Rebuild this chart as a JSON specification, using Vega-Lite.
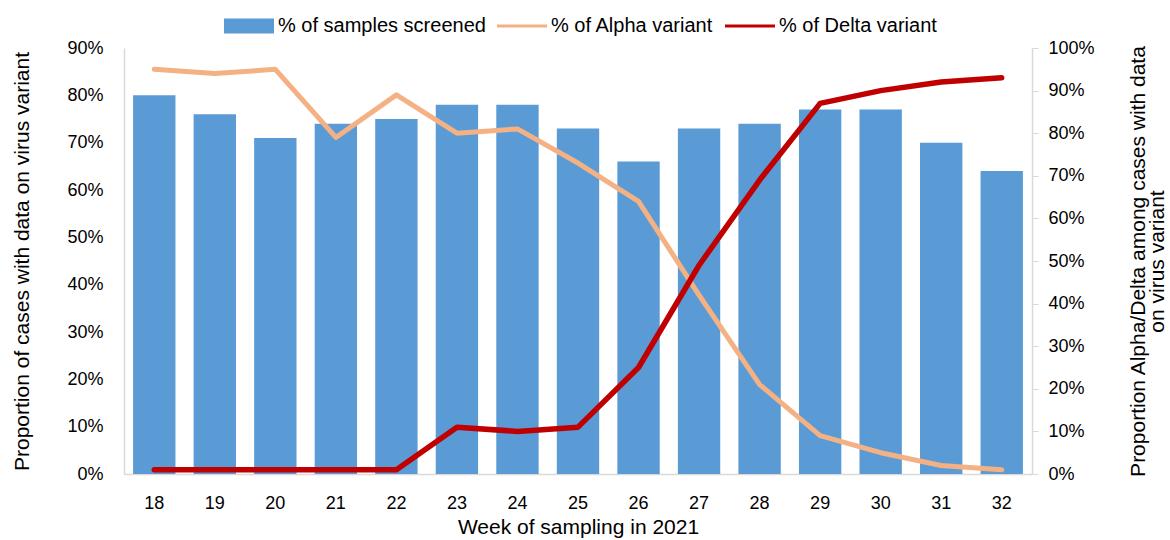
{
  "$schema": "https://vega.github.io/schema/vega-lite/v6.json",
  "width": 908,
  "height": 426,
  "autosize": {"type": "none"},
  "padding": {"left": 124, "top": 48, "right": 138, "bottom": 66},
  "config": {
    "font": "Liberation Sans",
    "view": {"stroke": null},
    "axis": {
      "grid": false,
      "labelFont": "Liberation Sans",
      "titleFont": "Liberation Sans",
      "labelFontSize": 18,
      "titleFontSize": 21,
      "titleFontWeight": "normal",
      "labelColor": "#000000",
      "titleColor": "#000000",
      "domainColor": "#D9D9D9",
      "domainWidth": 1.5,
      "tickColor": "#D9D9D9"
    }
  },
  "data": {
    "values": [
      {"week": "18", "screened": 80, "alpha": 95, "delta": 1},
      {"week": "19", "screened": 76, "alpha": 94, "delta": 1},
      {"week": "20", "screened": 71, "alpha": 95, "delta": 1},
      {"week": "21", "screened": 74, "alpha": 79, "delta": 1},
      {"week": "22", "screened": 75, "alpha": 89, "delta": 1},
      {"week": "23", "screened": 78, "alpha": 80, "delta": 11},
      {"week": "24", "screened": 78, "alpha": 81, "delta": 10},
      {"week": "25", "screened": 73, "alpha": 73, "delta": 11},
      {"week": "26", "screened": 66, "alpha": 64, "delta": 25},
      {"week": "27", "screened": 73, "alpha": 42, "delta": 49},
      {"week": "28", "screened": 74, "alpha": 21, "delta": 69},
      {"week": "29", "screened": 77, "alpha": 9, "delta": 87},
      {"week": "30", "screened": 77, "alpha": 5, "delta": 90},
      {"week": "31", "screened": 70, "alpha": 2, "delta": 92},
      {"week": "32", "screened": 64, "alpha": 1, "delta": 93}
    ]
  },
  "encoding": {
    "x": {
      "field": "week",
      "type": "ordinal",
      "scale": {"paddingInner": 0.3, "paddingOuter": 0.15},
      "axis": {
        "title": "Week of sampling in 2021",
        "labelAngle": 0,
        "ticks": false,
        "labelPadding": 20,
        "titlePadding": 4
      }
    }
  },
  "layer": [
    {
      "mark": {"type": "bar"},
      "encoding": {
        "y": {
          "field": "screened",
          "type": "quantitative",
          "scale": {"domain": [0, 90]},
          "axis": {
            "orient": "left",
            "values": [0, 10, 20, 30, 40, 50, 60, 70, 80, 90],
            "labelExpr": "datum.value + '%'",
            "ticks": false,
            "labelPadding": 21,
            "title": "Proportion of cases with data on virus variant",
            "titlePadding": 34
          }
        },
        "color": {
          "datum": "% of samples screened",
          "type": "nominal",
          "scale": {
            "domain": ["% of samples screened", "% of Alpha variant", "% of Delta variant"],
            "range": ["#5B9BD5", "#F4B183", "#C00000"]
          },
          "legend": {
            "title": null,
            "orient": "none",
            "direction": "horizontal",
            "legendX": 100,
            "legendY": -47,
            "labelFont": "Liberation Sans",
            "labelFontSize": 20,
            "labelColor": "#000000",
            "labelLimit": 0,
            "labelOffset": 4,
            "columnPadding": 11,
            "symbolType": "M-1,-0.3H1V0.3H-1Z",
            "symbolSize": 2500,
            "symbolStrokeWidth": 0,
            "encode": {
              "symbols": {
                "update": {
                  "shape": {"signal": "datum.value === '% of samples screened' ? 'M-1,-0.3H1V0.3H-1Z' : 'M-1,-0.06H1V0.06H-1Z'"},
                  "fill": {"scale": "color", "field": "value"},
                  "strokeWidth": {"value": 0},
                  "opacity": {"value": 1}
                }
              }
            }
          }
        }
      }
    },
    {
      "layer": [
        {
          "mark": {"type": "line", "strokeWidth": 5, "strokeCap": "round", "strokeJoin": "round"},
          "encoding": {
            "y": {
              "field": "alpha",
              "type": "quantitative",
              "scale": {"domain": [0, 100]},
              "axis": {
                "orient": "right",
                "values": [0, 10, 20, 30, 40, 50, 60, 70, 80, 90, 100],
                "labelExpr": "datum.value + '%'",
                "ticks": true,
                "tickSize": 6,
                "labelPadding": 10,
                "title": ["Proportion Alpha/Delta among cases with data", "on virus variant"],
                "titleAngle": 270,
                "titleLineHeight": 19,
                "titlePadding": 35
              }
            },
            "color": {"datum": "% of Alpha variant", "type": "nominal"}
          }
        },
        {
          "mark": {"type": "line", "strokeWidth": 5.5, "strokeCap": "round", "strokeJoin": "round"},
          "encoding": {
            "y": {
              "field": "delta",
              "type": "quantitative",
              "scale": {"domain": [0, 100]},
              "axis": {
                "orient": "right",
                "values": [0, 10, 20, 30, 40, 50, 60, 70, 80, 90, 100],
                "labelExpr": "datum.value + '%'",
                "ticks": true,
                "tickSize": 6,
                "labelPadding": 10,
                "title": ["Proportion Alpha/Delta among cases with data", "on virus variant"],
                "titleAngle": 270,
                "titleLineHeight": 19,
                "titlePadding": 35
              }
            },
            "color": {"datum": "% of Delta variant", "type": "nominal"}
          }
        }
      ]
    }
  ],
  "resolve": {"scale": {"y": "independent"}}
}
